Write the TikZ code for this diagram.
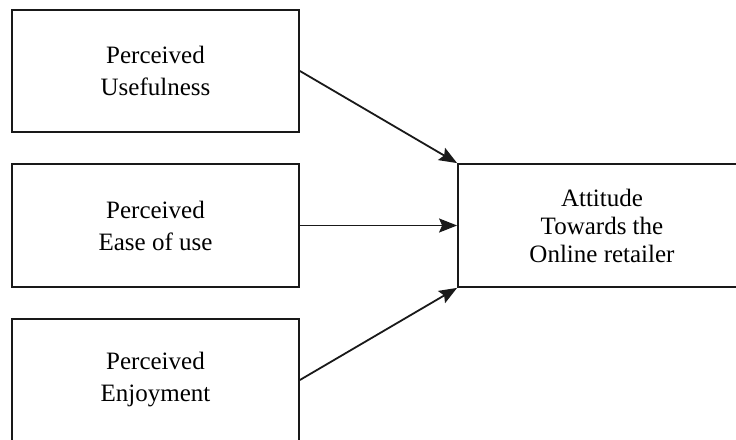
\documentclass[tikz,border=0pt]{standalone}
\usepackage{fontspec}
\setmainfont{Liberation Serif}
\usetikzlibrary{arrows.meta}
\begin{document}
\begin{tikzpicture}[x=1pt,y=1pt,
  box/.style={draw=black!90,line width=1.8pt,minimum width=287pt,align=center,inner sep=0pt,
    font=\fontsize{25}{32}\selectfont},
  rbox/.style={draw=black!90,line width=1.8pt,minimum width=288pt,minimum height=123pt,align=center,inner sep=0pt,
    font=\fontsize{25}{28}\selectfont},
  arr/.style={line width=1.8pt,draw=black!90,-{Stealth[length=18pt,width=14pt,inset=3pt]}}]
\clip (0,0) rectangle (736,439);
\useasboundingbox (0,0) rectangle (736,439);
\node[box,minimum height=122pt] (b1) at (155.5,368) {Perceived\\Usefulness};
\node[box,minimum height=123pt] (b2) at (155.5,213.5) {Perceived\\Ease of use};
\node[box,minimum height=122pt] (b3) at (155.5,59) {Perceived\\Enjoyment};
\node[rbox] (r) at (602,213.5) {Attitude\\Towards the\\Online retailer};
\draw[arr] (b1.east) -- (r.north west);
\draw[arr] (b2.east) -- (r.west);
\draw[arr] (b3.east) -- (r.south west);
\end{tikzpicture}
\end{document}
